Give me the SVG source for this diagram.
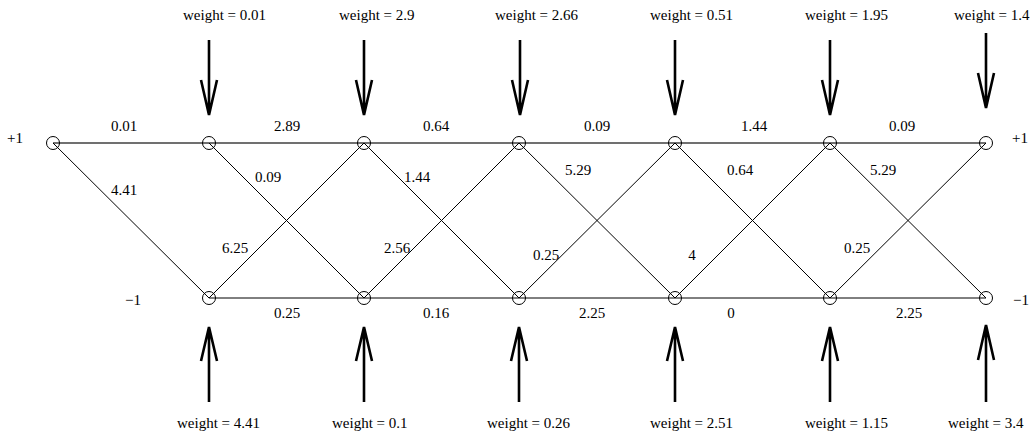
<svg xmlns="http://www.w3.org/2000/svg" width="1034" height="436" viewBox="0 0 1034 436" font-family="'Liberation Serif', 'Times New Roman', Times, serif" font-size="15">
<style>
text{font-family:'Liberation Serif','Times New Roman',Times,serif;font-size:15px;fill:#000}
.m{text-anchor:middle}
.node{fill:none;stroke:#000;stroke-width:1}
.top{stroke:#707070;stroke-width:2;fill:none}
.e{stroke:#000;stroke-width:1;fill:none}
.arr{stroke:#000;stroke-width:2.6;fill:none}
</style>
<rect width="1034" height="436" fill="#fff"/>
<g id="connectors">
<line class="top" x1="53" y1="143" x2="986" y2="143"/>
<line class="e" x1="209" y1="298" x2="986" y2="298"/>
<line class="e" x1="53" y1="143" x2="209" y2="298"/>
<line class="e" x1="209" y1="143" x2="364" y2="298"/>
<line class="e" x1="364" y1="143" x2="519" y2="298"/>
<line class="e" x1="519" y1="143" x2="675" y2="298"/>
<line class="e" x1="675" y1="143" x2="830" y2="298"/>
<line class="e" x1="830" y1="143" x2="986" y2="298"/>
<line class="e" x1="209" y1="298" x2="364" y2="143"/>
<line class="e" x1="364" y1="298" x2="519" y2="143"/>
<line class="e" x1="519" y1="298" x2="675" y2="143"/>
<line class="e" x1="675" y1="298" x2="830" y2="143"/>
<line class="e" x1="830" y1="298" x2="986" y2="143"/>
</g>
<g id="edge-labels">
<text class="m" x="124" y="131">0.01</text>
<text class="m" x="287" y="131">2.89</text>
<text class="m" x="436" y="131">0.64</text>
<text class="m" x="597" y="131">0.09</text>
<text class="m" x="754" y="131">1.44</text>
<text class="m" x="902" y="131">0.09</text>
<text class="m" x="287" y="318">0.25</text>
<text class="m" x="436" y="318">0.16</text>
<text class="m" x="592" y="318">2.25</text>
<text class="m" x="731" y="318">0</text>
<text class="m" x="909" y="318">2.25</text>
<text class="m" x="124" y="195">4.41</text>
<text class="m" x="268" y="182">0.09</text>
<text class="m" x="235" y="253">6.25</text>
<text class="m" x="417" y="182">1.44</text>
<text class="m" x="397" y="253">2.56</text>
<text class="m" x="578" y="175">5.29</text>
<text class="m" x="546" y="260">0.25</text>
<text class="m" x="740" y="175">0.64</text>
<text class="m" x="692" y="260">4</text>
<text class="m" x="883" y="175">5.29</text>
<text class="m" x="857" y="253">0.25</text>
</g>
<g id="n-top-0"><circle class="node" cx="53" cy="143" r="6.5"/><text x="7" y="143">+1</text></g>
<g id="n-top-1"><circle class="node" cx="209" cy="143" r="6.5"/></g>
<g id="n-top-2"><circle class="node" cx="364" cy="143" r="6.5"/></g>
<g id="n-top-3"><circle class="node" cx="519" cy="143" r="6.5"/></g>
<g id="n-top-4"><circle class="node" cx="675" cy="143" r="6.5"/></g>
<g id="n-top-5"><circle class="node" cx="830" cy="143" r="6.5"/></g>
<g id="n-top-6"><circle class="node" cx="986" cy="143" r="6.5"/><text x="1012" y="143">+1</text></g>
<g id="n-bot-1"><circle class="node" cx="209" cy="298" r="6.5"/><text x="125" y="305">−1</text></g>
<g id="n-bot-2"><circle class="node" cx="364" cy="298" r="6.5"/></g>
<g id="n-bot-3"><circle class="node" cx="519" cy="298" r="6.5"/></g>
<g id="n-bot-4"><circle class="node" cx="675" cy="298" r="6.5"/></g>
<g id="n-bot-5"><circle class="node" cx="830" cy="298" r="6.5"/></g>
<g id="n-bot-6"><circle class="node" cx="986" cy="298" r="6.5"/><text x="1013" y="305">−1</text></g>
<g id="w-top-1"><path class="arr" d="M209 40V115M201 80L209 115L217 80"/><text x="183" y="20">weight = 0.01</text></g>
<g id="w-top-2"><path class="arr" d="M364 40V115M356 80L364 115L372 80"/><text x="339" y="20">weight = 2.9</text></g>
<g id="w-top-3"><path class="arr" d="M520 40V115M512 80L520 115L528 80"/><text x="495" y="20">weight = 2.66</text></g>
<g id="w-top-4"><path class="arr" d="M675 40V115M667 80L675 115L683 80"/><text x="650" y="20">weight = 0.51</text></g>
<g id="w-top-5"><path class="arr" d="M830 40V115M822 80L830 115L838 80"/><text x="805" y="20">weight = 1.95</text></g>
<g id="w-top-6"><path class="arr" d="M986 33V108M978 73L986 108L994 73"/><text x="954" y="20">weight = 1.4</text></g>
<g id="w-bot-1"><path class="arr" d="M209 402V327M201 361L209 327L217 361"/><text x="177" y="428">weight = 4.41</text></g>
<g id="w-bot-2"><path class="arr" d="M364 402V327M356 361L364 327L372 361"/><text x="332" y="428">weight = 0.1</text></g>
<g id="w-bot-3"><path class="arr" d="M519 402V327M511 361L519 327L527 361"/><text x="487" y="428">weight = 0.26</text></g>
<g id="w-bot-4"><path class="arr" d="M675 402V327M667 361L675 327L683 361"/><text x="650" y="428">weight = 2.51</text></g>
<g id="w-bot-5"><path class="arr" d="M830 402V327M822 361L830 327L838 361"/><text x="805" y="428">weight = 1.15</text></g>
<g id="w-bot-6"><path class="arr" d="M986 402V325M978 360L986 325L994 360"/><text x="948" y="428">weight = 3.4</text></g>
</svg>
